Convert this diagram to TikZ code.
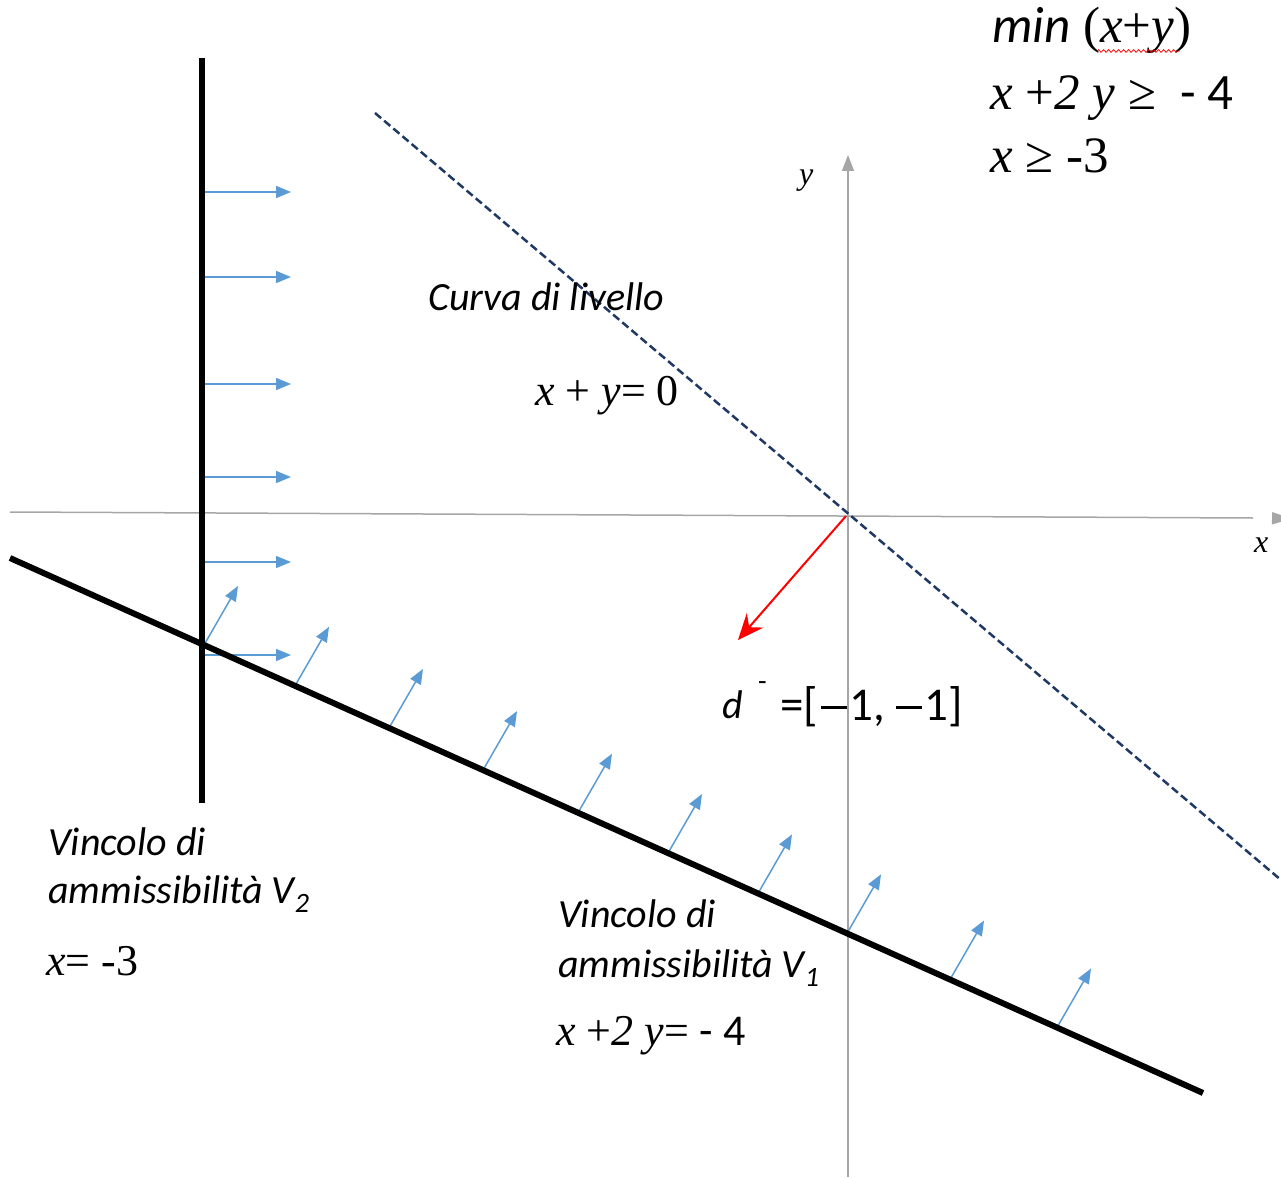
\documentclass[tikz,border=0pt]{standalone}
\usepackage{fontspec}
\setmainfont{Liberation Serif}
\newfontfamily\carl{Carlito}
\usetikzlibrary{arrows.meta,decorations.pathmorphing}
\definecolor{arrowblue}{HTML}{5B9BD5}
\definecolor{navyline}{HTML}{1F3864}
\definecolor{axisgray}{HTML}{A6A6A6}
\newcommand{\longminus}{\raisebox{0.24em}{\rule{0.55em}{0.05em}}}
\begin{document}
\begin{tikzpicture}[x=1pt,y=-1pt,
  txt/.style={inner sep=0pt, anchor=base west, font=\fontsize{44}{52}\selectfont},
  bigtxt/.style={inner sep=0pt, anchor=base west, font=\fontsize{51}{58}\selectfont},
  lbl/.style={inner sep=0pt, anchor=base west, font=\carl\itshape\fontsize{40}{48}\selectfont},
  axislbl/.style={inner sep=0pt, anchor=base west, font=\itshape\fontsize{32}{38}\selectfont},
  thickline/.style={draw=black, line width=6pt},
  axisline/.style={draw=axisgray, line width=1.5pt},
  farrow/.style={draw=arrowblue, line width=1.5pt, -{Triangle[length=15pt,width=12pt]}},
  levelline/.style={draw=navyline, line width=2.5pt, dash pattern=on 8pt off 4pt},
  dirarrow/.style={draw=red, line width=2pt, -{Stealth[length=26pt,width=22pt,inset=9pt]}}
]
\useasboundingbox (0,0) rectangle (1281,1177);

% axes
\coordinate (xa) at (10,512);
\coordinate (xb) at (1253,518);
\coordinate (xtip) at (1292,518.6);
\coordinate (ya) at (848,1177);
\coordinate (yb) at (848,155);
\draw[axisline] (xa) -- (xb);
\draw[axisline, -{Triangle[length=20pt,width=12pt]}, shorten <=19pt] (xb) -- (xtip);
\draw[axisline, -{Triangle[length=16pt,width=12pt]}] (ya) -- (yb);
\node[axislbl] (ylab) at (799,184) {y};
\node[axislbl] (xlab) at (1254,552) {x};

% level line
\coordinate (la) at (375,113);
\coordinate (lb) at (1281,880);
\draw[levelline] (la) -- (lb);

% feasible direction arrows (horizontal, for V2)
\foreach \yy [count=\i] in {192,277,384,477,562,655}{
  \coordinate (hs\i) at (204,\yy);
  \coordinate (he\i) at (291,\yy);
  \draw[farrow] (hs\i) -- (he\i);
}

% feasible direction arrows (for V1)
\foreach \xx [count=\i] in {204,295,389,483,578,668,758,847,950,1057}{
  \coordinate (ds\i) at (\xx,{558+(\xx-10)*0.4484});
  \path (ds\i) ++(34,-59) coordinate (de\i);
  \draw[farrow] (ds\i) -- (de\i);
}

% constraint lines
\coordinate (v2top) at (202,58);
\coordinate (v2bot) at (202,803);
\coordinate (v1a) at (10,558);
\coordinate (v1b) at (1203,1093);
\draw[thickline] (v2top) -- (v2bot);
\draw[thickline] (v1a) -- (v1b);

% direction d
\coordinate (O) at (846,516);
\coordinate (dend) at (738,640);
\draw[dirarrow] (O) -- (dend);

% labels
\node[lbl] (curva) at (428,310) {Curva di livello};
\node[txt] (lev) at (535,405) {\itshape x\upshape{} + \itshape y\upshape{}= 0};

\node[lbl] (dd) at (722,718) {d};
\node[inner sep=0pt, anchor=base west, font=\carl\fontsize{28}{30}\selectfont] (dsup) at (758,690) {-};
\node[inner sep=0pt, anchor=base west, font=\carl\fontsize{47}{52}\selectfont] (dval) at (780,720) {=[\kern0.06em\longminus\kern0.06em1, \longminus\kern0.06em1]};

\node[lbl] (v2a) at (48,855) {Vincolo di};
\node[lbl] (v2b) at (48,903) {ammissibilità V\textsubscript{2}};
\node[txt] (v2c) at (46,975) {\itshape x\upshape{}= -3};

\node[lbl] (v1l1) at (558,927) {Vincolo di};
\node[lbl] (v1l2) at (558,977) {ammissibilità V\textsubscript{1}};
\node[txt] (v1l3) at (556,1045) {\itshape x\upshape{} +\itshape 2 y\upshape{}= {\carl - 4}};

% problem
\node[bigtxt] (pmin) at (992,43) {{\carl\itshape min} (\itshape x\upshape{}+\itshape y\upshape{})};
\coordinate (wa) at (1097,51);
\coordinate (wb) at (1180,51);
\draw[red, line width=0.8pt, decorate, decoration={snake, amplitude=1.3pt, segment length=5pt}] (wa) -- (wb);
\node[bigtxt] (pc1) at (990,110) {\itshape x\upshape{} +\itshape 2 y\upshape{} ≥ {\carl\ - 4}};
\node[bigtxt] (pc2) at (990,173) {\itshape x\upshape{} ≥ -3};
\end{tikzpicture}
\end{document}
